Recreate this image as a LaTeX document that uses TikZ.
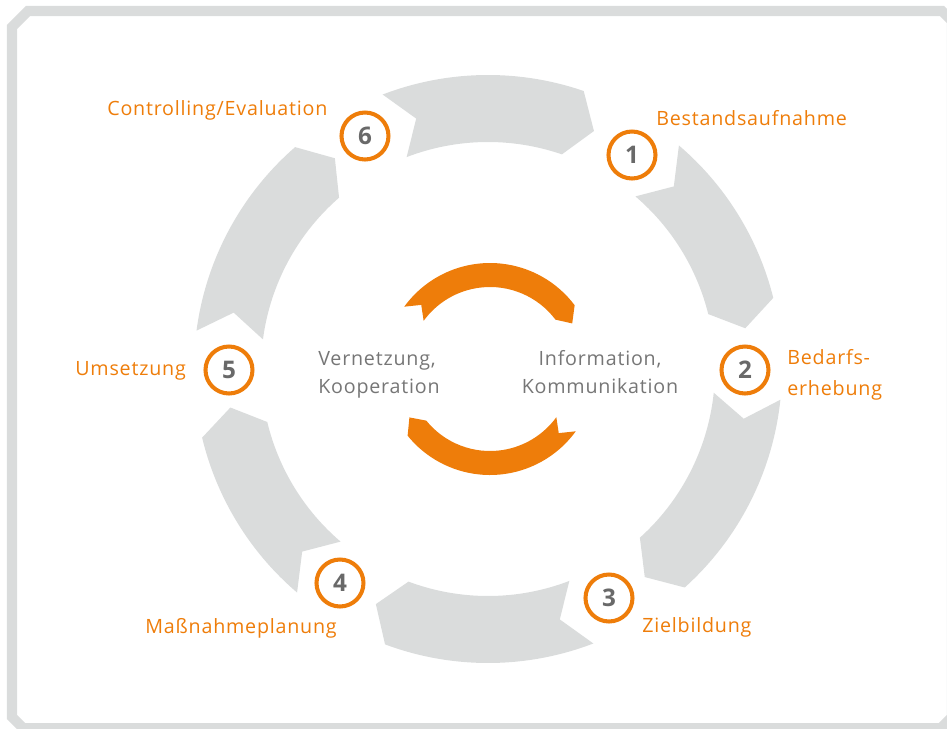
\documentclass[tikz,border=0pt]{standalone}
\usepackage{fontspec}
\setmainfont{Open Sans}[LetterSpace=4]
\usetikzlibrary{positioning}

\definecolor{ringgray}{RGB}{218,220,220}
\definecolor{cycorange}{RGB}{238,125,10}
\definecolor{txtgray}{RGB}{118,118,118}
\definecolor{numgray}{RGB}{105,105,105}

% grey ring segment: tail angle, head angle (clockwise)
\newcommand{\ringarrow}[2]{%
  \fill[ringgray] (#1:294) arc[start angle=#1, end angle=#2, radius=294]
    -- ({#2-5}:260.5) -- (#2:227) arc[start angle=#2, end angle=#1, radius=227]
    -- ({#1-5}:260.5) -- cycle;}

% small orange arrow around the centre
\newcommand{\swirl}[2]{%
  \fill[cycorange] (#1:106) arc[start angle=#1, end angle=#2, radius=106]
    -- ({#2-8}:94) -- (#2:82) arc[start angle=#2, end angle=#1, radius=82]
    -- ({#1-7}:94) -- cycle;}

\begin{document}
\begin{tikzpicture}[x=0.02cm, y=0.02cm,
    num/.style={circle, draw=cycorange, line width=2.3pt, fill=white, minimum size=0.94cm, inner sep=0pt, font=\fontsize{13.8}{16}\selectfont\bfseries, text=numgray},
    phase/.style={font=\fontsize{11.2}{17.5}\selectfont, text=cycorange, inner sep=0pt},
    mid/.style={font=\fontsize{11.2}{16.2}\selectfont, text=txtgray, inner sep=0pt}
]
\useasboundingbox (-488,-359) rectangle (459,369);

% frame with cut corner
\begin{scope}
\clip (-488,-359) rectangle (459,369);
\draw[ringgray, line width=5.7pt, line join=miter]
  (-476,-348) -- (-476,342) -- (-460,358) -- (454,358) -- (464,348)
  -- (464,-348) -- (453,-359) -- (-465,-359) -- cycle;
\end{scope}

% grey ring, from step 6 round to step 5
\ringarrow{111}{71}
\ringarrow{49.5}{14}
\ringarrow{-6}{-48}
\ringarrow{-69}{-110.5}
\ringarrow{229.5}{193.5}
\ringarrow{172.5}{131}

% orange arrows in the middle
\begin{scope}[shift={(2,0)}]
\swirl{144}{37}
\swirl{324}{219}
\end{scope}

% numbered steps
\node[num] (n1) at (144,214) {1};
\node[num] (n2) at (257,-1) {2};
\node[num] (n3) at (121,-229) {3};
\node[num] (n4) at (-148,-214) {4};
\node[num] (n5) at (-259,-1) {5};
\node[num] (n6) at (-123,233) {6};

% step labels
\node[phase, anchor=base west] (l1) at (168,244) {Bestandsaufnahme};
\node[phase, anchor=west, align=left] (l2) at (299,-6) {Bedarfs-\\erhebung};
\node[phase, anchor=base west] (l3) at (154,-263) {Zielbildung};
\node[phase, anchor=base west] (l4) at (-343,-264) {Maßnahmeplanung};
\node[phase, anchor=base west] (l5) at (-413,-6) {Umsetzung};
\node[phase, anchor=base west] (l6) at (-381,254) {Controlling/Evaluation};

% centre texts
\node[mid, align=left, anchor=west] (netz) at (-170,-6) {Vernetzung,\\Kooperation};
\node[mid, align=center] (info) at (112,-3) {Information,\\Kommunikation};

\end{tikzpicture}
\end{document}
